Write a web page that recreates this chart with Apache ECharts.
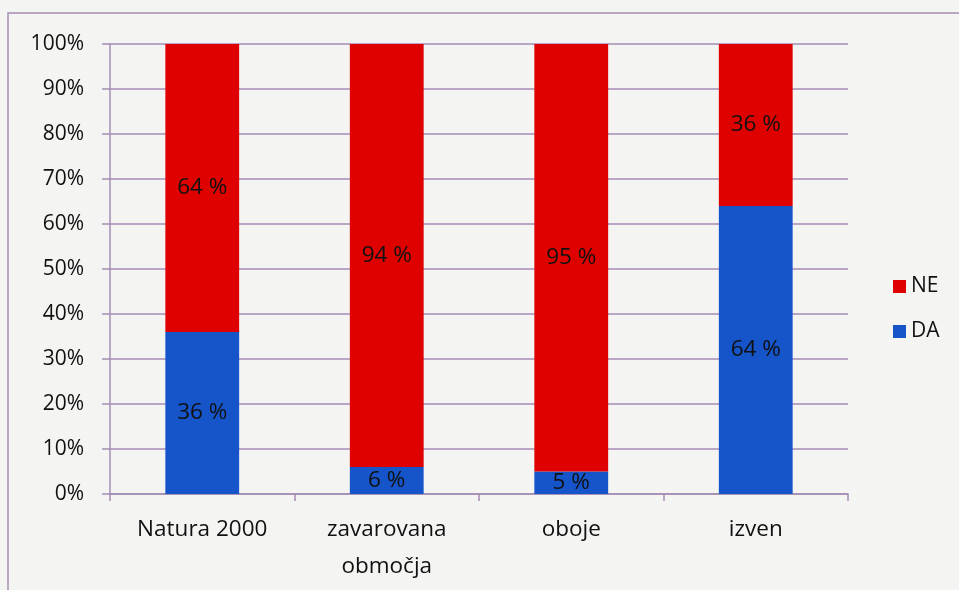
<!DOCTYPE html>
<html>
<head>
<meta charset="utf-8">
<script src="https://cdn.jsdelivr.net/npm/echarts@6/dist/echarts.min.js"></script>
<style>
html, body { margin: 0; padding: 0; background: #f4f4f3; }
#chartDom { width: 959px; height: 590px; }
</style>
</head>
<body>
<div id="chartDom"></div>
<script>
var categories = ['Natura 2000', 'zavarovana\nobmočja', 'oboje', 'izven'];
var daValues = [36, 6, 5, 64];
var neValues = [64, 94, 95, 36];
var yTicks = [0, 10, 20, 30, 40, 50, 60, 70, 80, 90, 100];

var font = '"Open Sans", "Noto Sans", sans-serif';
var lineColor = '#a48cb4';

var chartDom = document.getElementById('chartDom');
var myChart = echarts.init(chartDom);
var option = {
  backgroundColor: '#f4f4f3',
  textStyle: { fontFamily: font },
  animation: false,
  graphic: [{
    type: 'rect',
    shape: { x: 8, y: 13, width: 1000, height: 700 },
    style: { fill: 'none', stroke: lineColor, lineWidth: 1.5 },
    silent: true
  }],
  grid: { left: 110, right: 111, top: 44, bottom: 96 },
  legend: {
    orient: 'vertical',
    left: 888,
    top: 271,
    itemWidth: 13,
    itemHeight: 13,
    itemGap: 24,
    icon: 'rect',
    data: ['NE', 'DA'],
    textStyle: { fontFamily: font, fontSize: 21, color: '#111' }
  },
  xAxis: {
    type: 'category',
    data: categories,
    axisLine: { lineStyle: { color: lineColor, width: 1.5 } },
    axisTick: { show: true, length: 7, lineStyle: { color: lineColor, width: 1.5 } },
    axisLabel: { fontFamily: font, fontSize: 22.5, color: '#111', margin: 17, lineHeight: 37 }
  },
  yAxis: {
    type: 'value',
    min: 0,
    max: 100,
    interval: 10,
    axisLine: { show: true, lineStyle: { color: lineColor, width: 1.5 } },
    axisTick: { show: true, length: 8, lineStyle: { color: lineColor, width: 1.5 } },
    splitLine: { lineStyle: { color: lineColor, width: 1.5 } },
    axisLabel: {
      fontFamily: font, fontSize: 21, color: '#111', margin: 26,
      formatter: function (v) { return yTicks.indexOf(v) >= 0 ? v + '%' : ''; }
    }
  },
  series: [
    {
      name: 'DA',
      type: 'bar',
      stack: 'total',
      barWidth: '40%',
      itemStyle: { color: '#1654c9' },
      label: { show: true, position: 'inside', formatter: '{c} %', fontFamily: font, fontSize: 22.5, color: '#111' },
      data: daValues
    },
    {
      name: 'NE',
      type: 'bar',
      stack: 'total',
      barWidth: '40%',
      itemStyle: { color: '#df0000' },
      label: { show: true, position: 'inside', formatter: '{c} %', fontFamily: font, fontSize: 22.5, color: '#111' },
      data: neValues
    }
  ]
};
option && myChart.setOption(option);
</script>
</body>
</html>
